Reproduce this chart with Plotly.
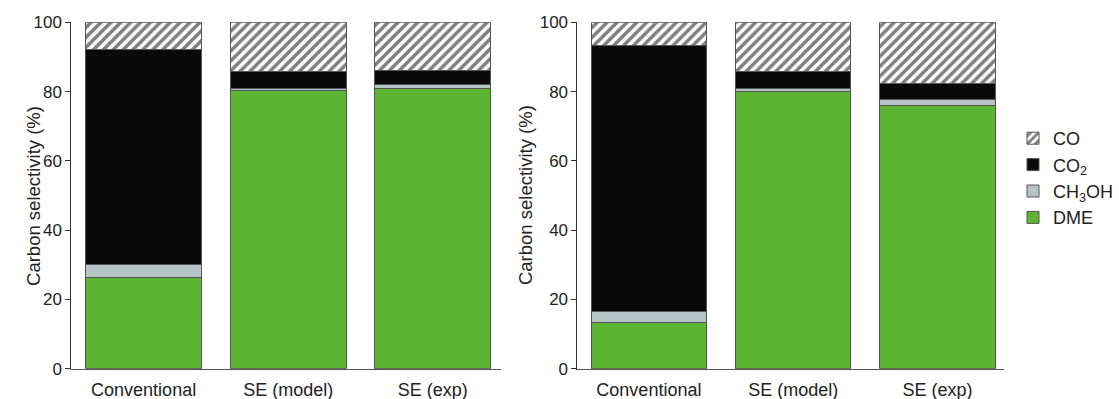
import plotly.graph_objects as go

categories = ["Conventional", "SE (model)", "SE (exp)"]

# Left panel (carbon selectivity %, stacked from bottom)
left_dme = [26.4, 80.4, 80.8]
left_ch3oh = [3.7, 0.6, 1.2]
left_co2 = [62.0, 4.8, 4.0]
left_co = [7.9, 14.2, 14.0]

# Right panel
right_dme = [13.2, 80.1, 76.0]
right_ch3oh = [3.4, 0.8, 1.6]
right_co2 = [76.6, 4.9, 4.7]
right_co = [6.8, 14.2, 17.7]

series_names = ["DME", "CH<sub>3</sub>OH", "CO<sub>2</sub>", "CO"]
tick_vals = [0, 20, 40, 60, 80, 100]

FONT = "Liberation Sans, Arial, Helvetica, sans-serif"
W, H = 1119, 399
GREEN = "#5db332"
GREY = "#b5c5c6"
BLACK = "#0a0a0a"
EDGE = "#555555"

styles = [
    dict(color=GREEN, line=dict(color=EDGE, width=1)),
    dict(color=GREY, line=dict(color=EDGE, width=1)),
    dict(color=BLACK, line=dict(color=EDGE, width=1)),
    dict(color="white", line=dict(color=EDGE, width=1),
         pattern=dict(shape="/", fgcolor="#000000", bgcolor="white", size=7, solidity=0.5)),
]

fig = go.Figure()
left = [left_dme, left_ch3oh, left_co2, left_co]
right = [right_dme, right_ch3oh, right_co2, right_co]
for i, (name, vals) in enumerate(zip(series_names, left)):
    fig.add_trace(go.Bar(x=categories, y=vals, name=name, marker=styles[i],
                         xaxis="x", yaxis="y", legendgroup=name, showlegend=True))
for i, (name, vals) in enumerate(zip(series_names, right)):
    fig.add_trace(go.Bar(x=categories, y=vals, name=name, marker=styles[i],
                         xaxis="x2", yaxis="y2", legendgroup=name, showlegend=False))

def px_x(p):
    return p / W

def px_y(p):
    return 1 - p / H

ydom = [px_y(368.7), px_y(22.3)]

yaxis_common = dict(
    range=[0, 100], tickvals=tick_vals, showgrid=False, zeroline=False,
    showline=True, linecolor="#333333", linewidth=1,
    ticks="outside", ticklen=5, tickcolor="#333333", tickwidth=1,
    tickfont=dict(family=FONT, size=17, color="#222222"),
    domain=ydom, automargin=False,
)
xaxis_common = dict(
    showgrid=False, zeroline=False, showline=True, linecolor="#555555", linewidth=1,
    ticks="outside", ticklen=5, tickcolor="rgba(0,0,0,0)",
    tickfont=dict(family=FONT, size=18, color="#222222"),
    type="category", automargin=False,
)

fig.update_layout(
    width=W, height=H,
    margin=dict(l=0, r=0, t=0, b=0),
    paper_bgcolor="white", plot_bgcolor="white",
    barmode="stack", bargap=0.2,
    xaxis=dict(xaxis_common, domain=[px_x(71.5), px_x(502)], range=[-0.5, 2.469], anchor="y"),
    yaxis=dict(yaxis_common, anchor="x"),
    xaxis2=dict(xaxis_common, domain=[px_x(579), px_x(1007)], range=[-0.495, 2.463], anchor="y2"),
    yaxis2=dict(yaxis_common, anchor="x2"),
    legend=dict(
        x=px_x(1016), y=px_y(120), xanchor="left", yanchor="top",
        traceorder="reversed", font=dict(family=FONT, size=18, color="#222222"),
        bgcolor="rgba(0,0,0,0)", itemwidth=30, tracegroupgap=0,
    ),
    annotations=[
        dict(text="Carbon selectivity (%)", textangle=-90, x=px_x(21), y=px_y(195.5),
             xref="paper", yref="paper", showarrow=False,
             font=dict(family=FONT, size=18.5, color="#222222")),
        dict(text="Carbon selectivity (%)", textangle=-90, x=px_x(527), y=px_y(195.5),
             xref="paper", yref="paper", showarrow=False,
             font=dict(family=FONT, size=18.5, color="#222222")),
    ],
)

fig.write_html("out.html")
